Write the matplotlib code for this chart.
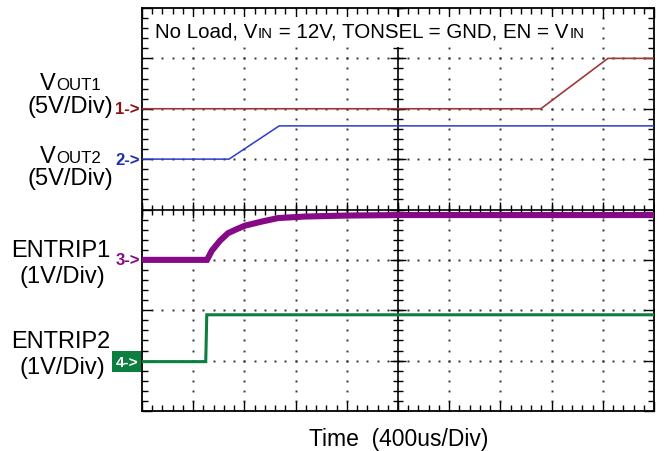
import numpy as np
import matplotlib
matplotlib.use("Agg")
import matplotlib.pyplot as plt
from matplotlib.patches import Rectangle
from matplotlib.ticker import MultipleLocator, NullFormatter

plt.rcParams['font.family'] = ['Liberation Sans', 'DejaVu Sans']

# scope settings
US_PER_DIV = 400
N_XDIV, N_YDIV = 10, 8

# CH1: VOUT1 (5V/div)
ch1_t = [0, 3116, 3640, 4000]
ch1_v = [0.0, 0.0, 5.0, 5.0]
# CH2: VOUT2 (5V/div)
ch2_t = [0, 680, 1072, 4000]
ch2_v = [0.0, 0.0, 3.3, 3.3]
# CH3: ENTRIP1 (1V/div)
ch3_t = [0, 508, 545, 609, 672, 740, 805, 935, 1063, 1273, 1600, 2016, 4000]
ch3_v = [0.0, 0.0, 0.18, 0.38, 0.53, 0.61, 0.68, 0.76, 0.83, 0.86, 0.88, 0.89, 0.89]
# CH4: ENTRIP2 (1V/div)
ch4_t = [0, 498, 506, 4000]
ch4_v = [0.0, 0.0, 0.93, 0.93]

ch_scale = [5, 5, 1, 1]          # V/div
ch_offset = [6, 5, 3, 0.98]      # ground marker position, div from bottom
ch_color = ['#A03838', '#2B3CC8', '#860A86', '#0B7E40']
ch_label_color = ['#8A1414', '#1E2EB4', '#860A86', '#0B7E40']
ch_lw = [1.2, 1.1, 4.4, 2.2]

fig = plt.figure(figsize=(6.65, 4.52), dpi=100)
W, H = 665, 452
ax = fig.add_axes([142 / W, 1 - 412 / H, 512 / W, 403 / H])
xmax = N_XDIV * US_PER_DIV
ax.set_xlim(0, xmax)
ax.set_ylim(0, N_YDIV)

# graticule: dotted division lines
dx = US_PER_DIV / 5
xs = np.arange(0, xmax + 1, dx)
ys = np.arange(0, N_YDIV + 0.01, 0.2)
for k in range(1, N_YDIV):
    if k == N_YDIV // 2:
        continue
    ax.plot(xs, np.full(len(xs), k), ls='none', marker='s', ms=1.4, mew=0, color='#333333', zorder=1)
for k in range(1, N_XDIV):
    if k == N_XDIV // 2:
        continue
    ax.plot(np.full(len(ys), k * US_PER_DIV), ys, ls='none', marker='s', ms=1.4, mew=0, color='#333333', zorder=1)

# centre cross with ticks
ax.axhline(N_YDIV / 2, color='k', lw=1.2, zorder=2)
ax.axvline(xmax / 2, color='k', lw=1.2, zorder=2)
ax.plot(xs, np.full(len(xs), N_YDIV / 2), ls='none', marker='|', ms=7, mew=1.0, color='k', zorder=2)
ax.plot(np.full(len(ys), xmax / 2), ys, ls='none', marker='_', ms=7, mew=1.0, color='k', zorder=2)
majx = np.arange(0, xmax + 1, US_PER_DIV)
majy = np.arange(0, N_YDIV + 1)
ax.plot(majx, np.full(len(majx), N_YDIV / 2), ls='none', marker='|', ms=12, mew=1.0, color='k', zorder=2)
ax.plot(np.full(len(majy), xmax / 2), majy, ls='none', marker='_', ms=12, mew=1.0, color='k', zorder=2)

# border ticks
ax.xaxis.set_major_locator(MultipleLocator(US_PER_DIV))
ax.xaxis.set_minor_locator(MultipleLocator(dx))
ax.yaxis.set_major_locator(MultipleLocator(1))
ax.yaxis.set_minor_locator(MultipleLocator(0.2))
ax.xaxis.set_major_formatter(NullFormatter())
ax.yaxis.set_major_formatter(NullFormatter())
ax.tick_params(which='both', direction='in', top=True, right=True, color='k', width=1.0)
ax.tick_params(which='major', length=7.5)
ax.tick_params(which='minor', length=4.5)
for sp in ax.spines.values():
    sp.set_linewidth(1.3)

# traces
traces = [(ch1_t, ch1_v), (ch2_t, ch2_v), (ch3_t, ch3_v), (ch4_t, ch4_v)]
for i, (t, v) in enumerate(traces):
    y = ch_offset[i] + np.array(v) / ch_scale[i]
    ax.plot(t, y, color=ch_color[i], lw=ch_lw[i], zorder=3 + i, solid_joinstyle='miter')

# channel markers
for i in range(4):
    if i == 3:
        ax.annotate('%d->' % (i + 1), xy=(0, ch_offset[i]), xycoords=('axes fraction', 'data'),
                    xytext=(-4, 0), textcoords='offset pixels', ha='right', va='center',
                    fontsize=11, fontweight='bold', color='white', annotation_clip=False,
                    bbox=dict(boxstyle='square,pad=0.22', fc=ch_label_color[i], ec='none'))
    else:
        ax.annotate('%d->' % (i + 1), xy=(0, ch_offset[i]), xycoords=('axes fraction', 'data'),
                    xytext=(-2, 0), textcoords='offset pixels', ha='right', va='center',
                    fontsize=12, fontweight='bold', color=ch_label_color[i], annotation_clip=False)


def fx(px):
    return px / W


def fy(py):
    return 1 - py / H


def run_text(x, y, parts, zorder=10):
    # draw text pieces one after another on a common baseline
    xcur = x
    boxes = []
    for s, fs in parts:
        t = fig.text(fx(xcur), fy(y), s, fontsize=fs, va='baseline', ha='left', zorder=zorder)
        fig.canvas.draw()
        bb = t.get_window_extent()
        boxes.append(bb)
        xcur = bb.x1 + 0.5
    return boxes


# title on a white patch
title_parts = [('No Load, V', 14.8), ('IN', 10.8), (' = 12V, TONSEL = GND, EN = V', 14.8), ('IN', 10.8)]
boxes = run_text(155, 38, title_parts)
x0 = min(b.x0 for b in boxes) - 4
x1 = max(b.x1 for b in boxes) + 4
y0 = min(b.y0 for b in boxes) - 6
y1 = max(b.y1 for b in boxes) + 5
fig.patches.append(Rectangle((x0 / W, y0 / H), (x1 - x0) / W, (y1 - y0) / H,
                             transform=fig.transFigure, fc='white', ec='none', zorder=5))

# left labels
run_text(40, 90, [('V', 17), ('OUT1', 12.2)])
fig.text(fx(70), fy(113), '(5V/Div)', fontsize=17, va='baseline', ha='center')
run_text(40, 163, [('V', 17), ('OUT2', 12.2)])
fig.text(fx(70), fy(185), '(5V/Div)', fontsize=17, va='baseline', ha='center')
fig.text(fx(61), fy(257.5), 'ENTRIP1', fontsize=17, va='baseline', ha='center')
fig.text(fx(62), fy(282.5), '(1V/Div)', fontsize=17, va='baseline', ha='center')
fig.text(fx(61), fy(348.5), 'ENTRIP2', fontsize=17, va='baseline', ha='center')
fig.text(fx(62), fy(374), '(1V/Div)', fontsize=17, va='baseline', ha='center')

fig.text(fx(399), fy(446), 'Time  (400us/Div)', fontsize=16.5, va='baseline', ha='center')

fig.savefig('out.png', dpi=100)
